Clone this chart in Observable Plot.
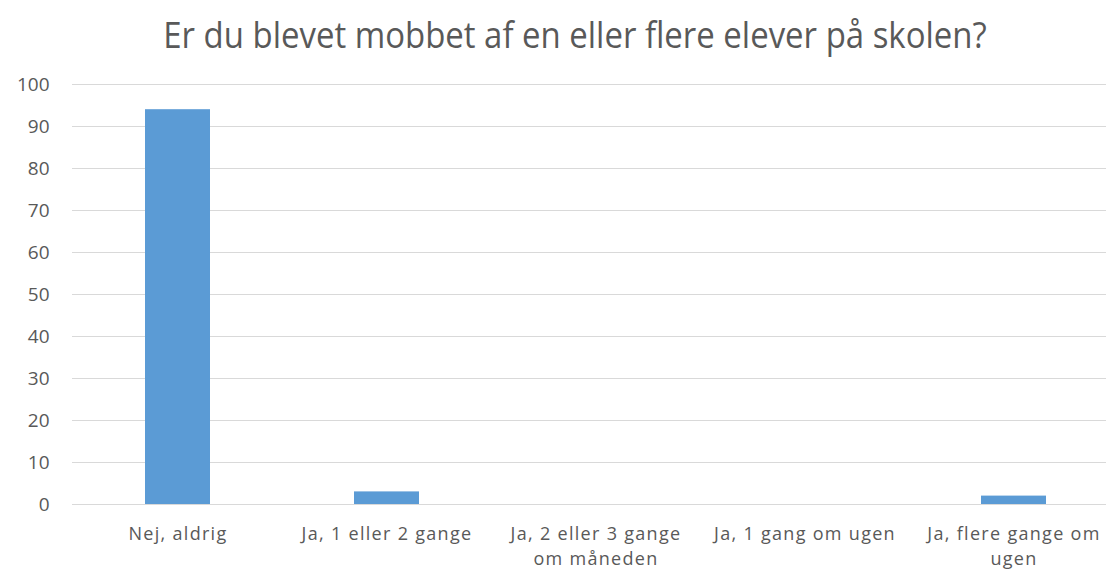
<!DOCTYPE html>
<html>
<head>
<meta charset="utf-8">
<script src="https://cdn.jsdelivr.net/npm/d3@7"></script>
<script src="https://cdn.jsdelivr.net/npm/@observablehq/plot@0.6"></script>
<style>
  html, body { margin: 0; padding: 0; background: #fff; overflow: hidden; }
  #title {
    height: 70px; line-height: 70px; text-align: center; padding-left: 44px;
    font-family: "Open Sans", sans-serif; font-size: 36px; color: #595959;
    white-space: nowrap;
  }
  #title span { display: inline-block; transform: scaleX(0.915); transform-origin: center; }
</style>
</head>
<body>
<div id="title"><span>Er du blevet mobbet af en eller flere elever på skolen?</span></div>
<div id="chart"></div>
<script>
// Survey answers and their shares
const categories = ["Nej, aldrig", "Ja, 1 eller 2 gange", "Ja, 2 eller 3 gange om måneden", "Ja, 1 gang om ugen", "Ja, flere gange om ugen"];
const values = [94, 3, 0, 0, 2];
const tickLabels = ["Nej, aldrig", "Ja, 1 eller 2 gange", "Ja, 2 eller 3 gange\nom måneden", "Ja, 1 gang om ugen", "Ja, flere gange om\nugen"];
const yTicks = [0, 10, 20, 30, 40, 50, 60, 70, 80, 90, 100];

const data = categories.map((c, i) => ({category: c, value: values[i]}));

const chart = Plot.plot({
  width: 1106,
  height: 503,
  marginTop: 14,
  marginBottom: 69,
  marginLeft: 72,
  marginRight: -13,
  style: {fontFamily: "'Open Sans', sans-serif", fontSize: "19px", color: "#595959", background: "#fff", overflow: "visible"},
  x: {domain: categories, paddingInner: 0.69, paddingOuter: 0.345, label: null},
  y: {domain: [0, 100], label: null},
  marks: [
    Plot.gridY(yTicks, {stroke: "#d9d9d9", strokeOpacity: 1, strokeWidth: 1}),
    Plot.barY(data, {x: "category", y: "value", fill: "#5b9bd5"}),
    Plot.axisY(yTicks, {tickSize: 0, tickPadding: 23, label: null, fill: "#595959", fontSize: 19}),
    Plot.axisX({tickSize: 0, tickPadding: 18, label: null, fill: "#595959", fontSize: 18, lineHeight: 1.37,
      tickFormat: d => tickLabels[categories.indexOf(d)]})
  ]
});
chart.querySelectorAll("[aria-label='x-axis tick label'] text").forEach(t => t.style.letterSpacing = "1.3px");
document.getElementById("chart").appendChild(chart);
</script>
</body>
</html>
